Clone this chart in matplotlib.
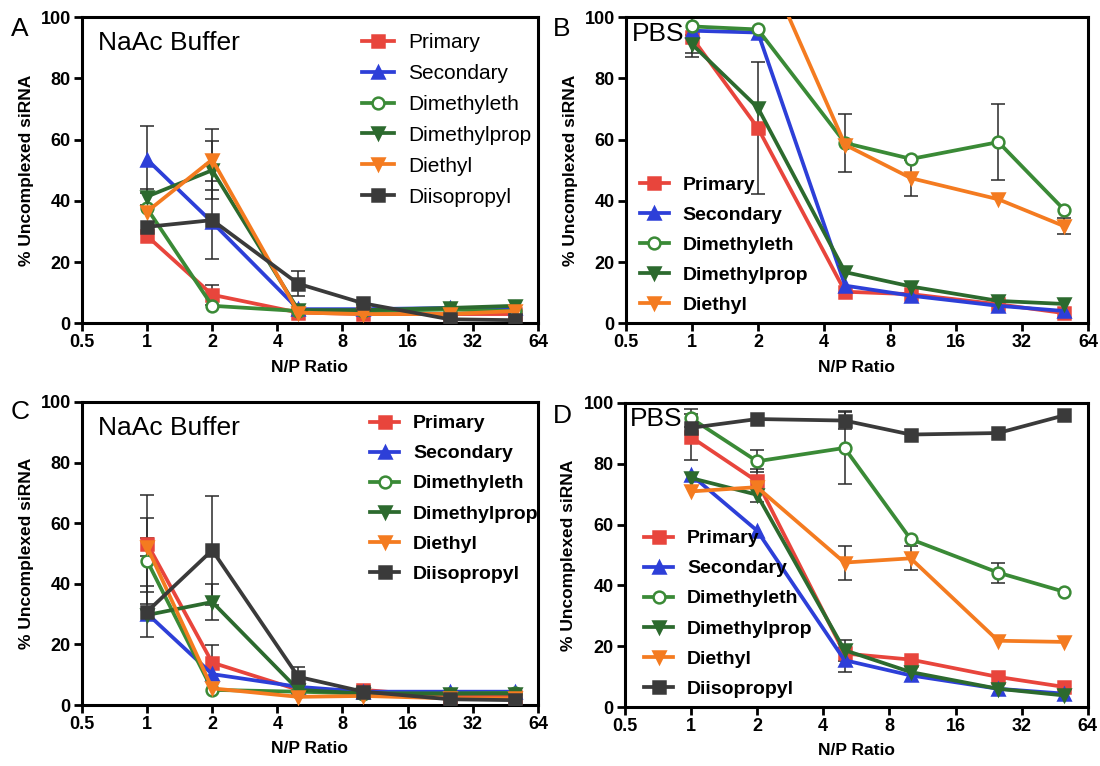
import numpy as np
import matplotlib.pyplot as plt

plt.rcParams['font.family'] = ['Liberation Sans', 'DejaVu Sans']

# N/P ratios tested
np_ratio = [1, 2, 5, 10, 25, 50]
names = ['Primary', 'Secondary', 'Dimethyleth', 'Dimethylprop', 'Diethyl', 'Diisopropyl']

# panel A - NaAc buffer
a_vals = {
    'Primary':      [28.5, 9.3, 3.5, 3.0, 3.0, 3.0],
    'Secondary':    [53.5, 33.0, 4.6, 4.6, 5.0, 5.0],
    'Dimethyleth':  [37.5, 5.7, 4.0, 4.0, 4.5, 4.0],
    'Dimethylprop': [41.4, 50.0, 4.3, 4.3, 5.0, 5.7],
    'Diethyl':      [36.5, 53.5, 3.5, 3.0, 3.0, 4.0],
    'Diisopropyl':  [31.5, 33.7, 12.9, 6.5, 1.3, 1.0],
}
a_err = {
    'Primary':      [0, 3.3, 0, 0, 0, 0],
    'Secondary':    [11.0, 0, 0, 0, 0, 0],
    'Dimethyleth':  [0, 0, 0, 0, 0, 0],
    'Dimethylprop': [2.6, 9.5, 0, 0, 0, 0],
    'Diethyl':      [0, 10.1, 0, 0, 0, 0],
    'Diisopropyl':  [0, 12.7, 4.1, 0, 0, 0],
}

# panel B - PBS (Diethyl runs off the top at low N/P)
b_vals = {
    'Primary':      [93.4, 63.8, 10.3, 9.5, 6.2, 3.3],
    'Secondary':    [95.6, 95.0, 12.3, 9.0, 5.7, 4.0],
    'Dimethyleth':  [97.0, 96.0, 58.9, 53.7, 59.2, 37.0],
    'Dimethylprop': [91.2, 70.4, 16.7, 12.0, 7.3, 6.3],
    'Diethyl':      [120.0, 123.0, 58.3, 47.4, 40.5, 31.7],
}
b_err = {
    'Primary':      [6.5, 21.6, 0, 0, 0, 0],
    'Secondary':    [0, 0, 0, 0, 0, 0],
    'Dimethyleth':  [0, 0, 9.5, 0, 12.3, 0],
    'Dimethylprop': [3.0, 0, 0, 0, 0, 0],
    'Diethyl':      [0, 0, 0, 5.8, 0, 2.6],
}

# panel C - NaAc buffer
c_vals = {
    'Primary':      [53.3, 14.0, 5.0, 5.0, 2.7, 2.7],
    'Secondary':    [30.2, 10.2, 6.0, 4.4, 4.4, 4.4],
    'Dimethyleth':  [47.6, 5.0, 4.4, 3.8, 3.8, 4.0],
    'Dimethylprop': [29.7, 34.0, 5.0, 3.8, 3.8, 3.8],
    'Diethyl':      [52.2, 5.5, 2.7, 3.0, 2.2, 2.2],
    'Diisopropyl':  [30.8, 51.1, 9.3, 4.4, 1.9, 1.6],
}
c_err = {
    'Primary':      [16.0, 5.8, 0, 0, 0, 0],
    'Secondary':    [0, 0, 0, 0, 0, 0],
    'Dimethyleth':  [14.2, 0, 0, 0, 0, 0],
    'Dimethylprop': [0, 6.0, 0, 0, 0, 0],
    'Diethyl':      [3.0, 0, 0, 0, 0, 0],
    'Diisopropyl':  [8.4, 18.0, 3.3, 0, 0, 0],
}

# panel D - PBS
d_vals = {
    'Primary':      [88.8, 74.2, 17.6, 15.6, 9.9, 6.6],
    'Secondary':    [76.4, 58.0, 15.4, 10.4, 6.0, 4.4],
    'Dimethyleth':  [95.0, 80.8, 85.2, 55.2, 44.2, 37.9],
    'Dimethylprop': [75.3, 69.8, 18.7, 11.5, 6.0, 3.8],
    'Diethyl':      [70.9, 72.3, 47.5, 48.9, 21.8, 21.4],
    'Diisopropyl':  [91.8, 94.7, 94.2, 89.6, 90.1, 95.9],
}
d_err = {
    'Primary':      [7.5, 4.0, 0, 0, 0, 0],
    'Secondary':    [0, 0, 3.9, 0, 0, 0],
    'Dimethyleth':  [3.0, 3.6, 12.0, 0, 3.3, 0],
    'Dimethylprop': [0, 2.5, 3.5, 0, 0, 0],
    'Diethyl':      [0, 0, 5.6, 4.0, 0, 0],
    'Diisopropyl':  [0, 0, 2.8, 0, 0, 0],
}

styles = {
    'Primary':      dict(color='#e8453c', marker='s', mfc='#e8453c'),
    'Secondary':    dict(color='#2d3fd8', marker='^', mfc='#2d3fd8'),
    'Dimethyleth':  dict(color='#3a8a36', marker='o', mfc='white'),
    'Dimethylprop': dict(color='#2c6a2e', marker='v', mfc='#2c6a2e'),
    'Diethyl':      dict(color='#f47b20', marker='v', mfc='#f47b20'),
    'Diisopropyl':  dict(color='#3a3a3a', marker='s', mfc='#3a3a3a'),
}


def draw_panel(ax, vals, errs, title, letter, leg_anchor, leg_bold, letter_pos, title_pos):
    x = np.array(np_ratio, dtype=float)
    for name in names:
        if name not in vals:
            continue
        st = styles[name]
        y = np.array(vals[name])
        e = np.array(errs[name])
        m = e > 0
        if m.any():
            ax.errorbar(x[m], y[m], yerr=e[m], fmt='none', ecolor='#2a2a2a',
                        elinewidth=1.1, capsize=5, capthick=1.1, zorder=2)
        ax.plot(x, y, color=st['color'], lw=2.7, marker=st['marker'],
                ms=8.5, mfc=st['mfc'], mec=st['color'], mew=1.8, label=name, zorder=3)

    ax.set_xscale('log', base=2)
    ax.set_xlim(0.5, 64)
    ax.set_ylim(0, 100)
    ax.set_xticks([0.5, 1, 2, 4, 8, 16, 32, 64])
    ax.set_xticklabels(['0.5', '1', '2', '4', '8', '16', '32', '64'])
    ax.minorticks_off()
    ax.set_yticks([0, 20, 40, 60, 80, 100])
    ax.tick_params(direction='out', length=6, width=2, labelsize=13, pad=2,
                   top=False, right=False)
    for lab in ax.get_xticklabels() + ax.get_yticklabels():
        lab.set_fontweight('bold')
    for sp in ax.spines.values():
        sp.set_linewidth(2.2)
    ax.set_xlabel('N/P Ratio', fontsize=12.5, fontweight='bold', labelpad=6)
    ax.set_ylabel('% Uncomplexed siRNA', fontsize=12.5, fontweight='bold', labelpad=5)

    ax.text(title_pos[0], title_pos[1], title, transform=ax.transAxes,
            fontsize=19, va='top', ha='left')
    ax.figure.text(letter_pos[0], letter_pos[1], letter, fontsize=19, va='top', ha='left')

    fs = 14 if leg_bold else 15
    ax.legend(loc='upper left', bbox_to_anchor=leg_anchor, frameon=False,
              borderaxespad=0, borderpad=0, numpoints=1, handlelength=1.5,
              handletextpad=0.7, labelspacing=0.64 if leg_bold else 0.57,
              prop=dict(size=fs, weight='bold' if leg_bold else 'normal'))


fig = plt.figure(figsize=(11, 7.66), dpi=100)
ax_a = fig.add_axes([0.0745, 0.578, 0.4145, 0.3995])
ax_b = fig.add_axes([0.569, 0.578, 0.420, 0.3995])
ax_c = fig.add_axes([0.0745, 0.0796, 0.4145, 0.3956])
ax_d = fig.add_axes([0.568, 0.077, 0.4209, 0.397])

draw_panel(ax_a, a_vals, a_err, 'NaAc Buffer', 'A', (0.615, 0.948), False,
           (0.010, 0.978), (0.035, 0.955))
draw_panel(ax_b, b_vals, b_err, 'PBS', 'B', (0.03, 0.48), True,
           (0.503, 0.978), (0.012, 0.985))
draw_panel(ax_c, c_vals, c_err, 'NaAc Buffer', 'C', (0.632, 0.958), True,
           (0.010, 0.478), (0.035, 0.955))
draw_panel(ax_d, d_vals, d_err, 'PBS', 'D', (0.042, 0.583), True,
           (0.503, 0.472), (0.012, 0.985))

fig.savefig('out.png', dpi=100)
